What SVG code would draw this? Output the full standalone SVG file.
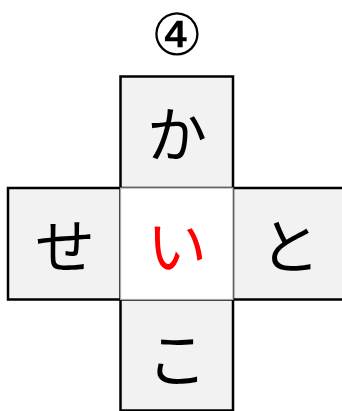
<svg xmlns="http://www.w3.org/2000/svg" width="342" height="411" viewBox="0 0 342 411">
<style>
.cell{fill:#f2f2f2;stroke:#000;stroke-width:2.5}
.mid{fill:#fff;stroke:#a6a6a6;stroke-width:1.2}
.ch{font-family:"Noto Sans CJK JP","Noto Sans CJK SC",sans-serif;font-size:60px;text-anchor:middle;dominant-baseline:central;fill:#000}
.num{font-family:"DejaVu Sans","Noto Sans CJK JP",sans-serif;font-size:58px;text-anchor:middle;fill:#000}
</style>
<rect width="342" height="411" fill="#fff"/>
<g id="title"><text class="num" x="177" y="55">④</text></g>
<g id="top"><rect class="cell" x="120.5" y="76.5" width="112.5" height="111.5"/><text class="ch" x="177" y="130">か</text></g>
<g id="left"><rect class="cell" x="8" y="188" width="112.5" height="111.5"/><text class="ch" x="65" y="242">せ</text></g>
<g id="right"><rect class="cell" x="233" y="188" width="120" height="111.5"/><text class="ch" x="290" y="242">と</text></g>
<g id="bottom"><rect class="cell" x="120.5" y="299.5" width="112.5" height="111"/><text class="ch" x="177" y="355">こ</text></g>
<g id="center"><rect class="mid" x="120.5" y="188" width="112.5" height="111.5"/><text class="ch" x="177" y="242" style="fill:#ff0000">い</text></g>
<g id="connectors"/>
</svg>
